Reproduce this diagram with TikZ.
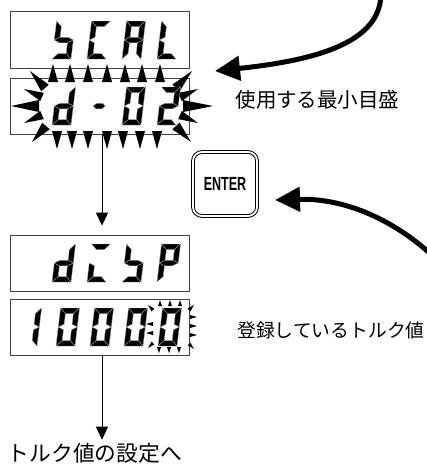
\documentclass[tikz,border=0pt]{standalone}
\usepackage{fontspec}
\usepackage{graphicx}
\newfontfamily\jp{Noto Sans CJK JP}
\newfontfamily\lsans{Liberation Sans}
\usetikzlibrary{arrows.meta,calc}
\tikzset{
  seg/.style={fill=black, draw=black!35, line width=0.35pt},
  lcd/.style={draw=black!75, line width=0.8pt, minimum width=179pt, minimum height=56pt, inner sep=0pt},
  thinarrow/.style={line width=1pt, -{Triangle[length=13pt,width=12pt]}},
  thickarrow/.style={line width=5pt, -{Triangle[length=25pt,width=24pt]}},
  jptext/.style={inner sep=0pt},
}
\newcommand\SGa{\filldraw[seg] (0,38)--(19,38)--(13.5,32.5)--(5.5,32.5)--cycle;}
\newcommand\SGb{\filldraw[seg] (19,38)--(19,19)--(13.5,21.75)--(13.5,32.5)--cycle;}
\newcommand\SGc{\filldraw[seg] (19,19)--(19,0)--(13.5,5.5)--(13.5,16.25)--cycle;}
\newcommand\SGd{\filldraw[seg] (0,0)--(19,0)--(13.5,5.5)--(5.5,5.5)--cycle;}
\newcommand\SGe{\filldraw[seg] (0,19)--(5.5,16.25)--(5.5,5.5)--(0,0)--cycle;}
\newcommand\SGf{\filldraw[seg] (0,38)--(5.5,32.5)--(5.5,21.75)--(0,19)--cycle;}
\newcommand\SGg{\filldraw[seg] (0,19)--(5.5,21.75)--(13.5,21.75)--(19,19)--(13.5,16.25)--(5.5,16.25)--cycle;}
\newcommand\SGdash{\filldraw[seg] (4,19)--(7,21.75)--(13,21.75)--(16,19)--(13,16.25)--(7,16.25)--cycle;}
\newcommand\dig[3]{\begin{scope}[shift={(#1,#2)},x={(1pt,0pt)},y={(0.12pt,1pt)}]#3\end{scope}}
\newcommand\ray[5][5pt]{\fill ($(#2,#3)!#1!90:(#4,#5)$) -- (#4,#5) -- ($(#2,#3)!#1!-90:(#4,#5)$) -- cycle;}
\begin{document}
\begin{tikzpicture}[x=1pt,y=-1pt]
\useasboundingbox (0,0) rectangle (427,467);
% display boxes
\node[lcd, minimum height=57pt] (b1) at (99.5,39.5) {};
\node[lcd] (b2) at (99.5,106) {};
\node[lcd] (b3) at (99.5,263) {};
\node[lcd] (b4) at (99.5,327) {};
% blinking area
\fill[white, rounded corners=18pt] (36,80) rectangle (186,133);
\foreach \x in {53,70,88,107,125,142,160} {\ray{\x}{82}{\x}{64}}
\foreach \x in {57,72,88,107,123,140,157} {\ray{\x}{131}{\x}{149}}
\ray{45}{88}{30}{71}
\ray{176}{88}{192}{71}
\ray{46}{126}{32}{142}
\ray{176}{126}{191}{142}
\ray[4.5pt]{42}{97}{24}{89}
\ray[6pt]{39}{106}{11}{106}
\ray[4.5pt]{42}{115}{24}{123}
\ray[4.5pt]{180}{97}{198}{89}
\ray[6pt]{183}{106}{213}{106}
\ray[4.5pt]{180}{115}{198}{123}
% small blinking marks
\foreach \x in {160,170,180} {\ray[2pt]{\x}{306}{\x}{300}}
\foreach \x in {159,169,179} {\ray[2pt]{\x}{347}{\x}{353}}
\ray[2pt]{153}{310}{148}{305}
\ray[2pt]{153}{324}{146}{324}
\ray[2pt]{153}{333}{146}{333}
\ray[2pt]{153}{343}{148}{348}
\ray[2pt]{189}{310}{194}{305}
\ray[2pt]{190}{317}{197}{317}
\ray[2pt]{190}{326}{197}{326}
\ray[2pt]{190}{335}{197}{335}
\ray[2pt]{189}{344}{194}{349}
% characters
\dig{52}{59}{\SGf\SGg\SGc\SGd}
\dig{87}{59}{\SGa\SGf\SGe\SGd}
\dig{122}{59}{\SGa\SGb\SGc\SGe\SGf\SGg}
\dig{157}{59}{\SGf\SGe\SGd}
\dig{52}{125}{\SGb\SGc\SGd\SGe\SGg}
\dig{87}{125}{\SGdash}
\dig{122}{125}{\SGa\SGb\SGc\SGd\SGe\SGf}
\dig{157}{125}{\SGa\SGb\SGg\SGe\SGd}
\dig{52}{282}{\SGb\SGc\SGd\SGe\SGg}
\dig{87}{282}{\SGa\SGe\SGd}
\dig{122}{282}{\SGf\SGg\SGc\SGd}
\dig{157}{282}{\SGa\SGb\SGe\SGf\SGg}
\dig{18}{346}{\SGb\SGc}
\foreach \x in {56,90,124,158} {\dig{\x}{346}{\SGa\SGb\SGc\SGd\SGe\SGf}}
% ENTER key
\node[draw, double, line width=1pt, double distance=1.8pt, rounded corners=9pt,
      minimum size=64pt, inner sep=0pt] (enter) at (225,184)
      {\lsans\bfseries\fontsize{19}{19}\selectfont\scalebox{0.66}[1]{ENTER}};
% texts
\node[jptext, font={\jp\fontsize{20.5}{24}\selectfont}] (t1) at (317.5,100) {使用する最小目盛};
\node[jptext, font={\jp\fontsize{18.8}{22}\selectfont}] (t2) at (331,330) {登録しているトルク値};
\node[jptext, font={\jp\fontsize{21.75}{24}\selectfont}] (t3) at (95,453) {トルク値の設定へ};
% arrows
\coordinate (a2) at ([xshift=2.5pt]b2.south);
\coordinate (a4) at ([xshift=2.5pt]b4.south);
\draw[thinarrow, shorten >=9pt] (a2) -- (a2 |- b3.north);
\draw[thinarrow, shorten >=3pt] (a4) -- (a4 |- t3.north);
\coordinate (s1) at (381,-8);
\coordinate (e1) at (215,71);
\draw[thickarrow] (s1) .. controls (382,42) and (318,60) .. (e1);
\coordinate (s2) at (435,258);
\coordinate (e2) at (275,200);
\draw[thickarrow] (s2) .. controls (395,220) and (345,198) .. (e2);
\end{tikzpicture}
\end{document}
